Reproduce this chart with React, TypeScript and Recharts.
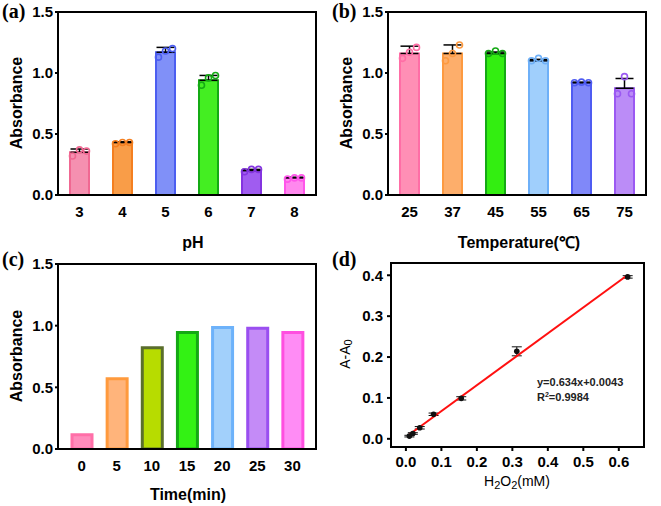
import React from 'react';
import { ComposedChart, Bar, Line, Scatter, XAxis, YAxis, ErrorBar, Cell } from 'recharts';

const FONT = '"Liberation Sans", Arial, sans-serif';

// (a) pH
const phLabels = ['3', '4', '5', '6', '7', '8'];
const phMean = [0.35, 0.43, 1.17, 0.94, 0.2, 0.14];
const phSD = [0.027, 0.006, 0.04, 0.04, 0.01, 0.006];
const phRepLeft = [0.32, 0.42, 1.13, 0.9, 0.19, 0.13];
const phRepCenter = [0.37, 0.43, 1.18, 0.96, 0.21, 0.14];
const phRepRight = [0.36, 0.43, 1.2, 0.98, 0.21, 0.14];
const phFill = ['#f590b0', '#f99d48', '#8090f8', '#44ee22', '#a05cf0', '#ff88ee'];
const phStroke = ['#f06892', '#f47f20', '#4c5ef0', '#14aa14', '#8434e0', '#ff55ea'];

// (b) Temperature
const tempLabels = ['25', '37', '45', '55', '65', '75'];
const tempMean = [1.16, 1.16, 1.16, 1.1, 0.92, 0.875];
const tempSD = [0.06, 0.07, 0.012, 0.012, 0.005, 0.08];
const tempRepLeft = [1.12, 1.1, 1.16, 1.1, 0.92, 0.83];
const tempRepCenter = [1.17, 1.16, 1.18, 1.12, 0.925, 0.97];
const tempRepRight = [1.21, 1.23, 1.16, 1.1, 0.92, 0.83];
const tempFill = ['#ff8fb5', '#fdae6b', '#33ee11', '#a0cffc', '#8088f9', '#bb8cf7'];
const tempStroke = ['#ff6ea6', '#fd9a40', '#15a915', '#6eb0f8', '#4f5cf2', '#9b59f2'];

// (c) Time
const timeLabels = ['0', '5', '10', '15', '20', '25', '30'];
const timeValues = [0.115, 0.57, 0.82, 0.945, 0.985, 0.98, 0.945];
const timeFill = ['#ff8cbc', '#ffb47b', '#b7dc00', '#33f214', '#a2d0fb', '#c48bf7', '#ff8cf5'];
const timeStroke = ['#ff6fa8', '#ff9a3d', '#5a6e2c', '#14a814', '#6db2fa', '#9a4ff0', '#ff4fe0'];

// (d) H2O2 calibration
const h2o2Conc = [0.0098, 0.0195, 0.039, 0.078, 0.156, 0.3125, 0.625];
const h2o2Signal = [0.0066, 0.013, 0.027, 0.06, 0.099, 0.214, 0.396];
const h2o2Err = [0.002, 0.002, 0.003, 0.003, 0.004, 0.011, 0.003];
const fitX = [0.0098, 0.625];
const fitY = [0.0105, 0.4006];
const xTicksD = [0, 0.1, 0.2, 0.3, 0.4, 0.5, 0.6];
const yTicksD = [0, 0.1, 0.2, 0.3, 0.4];
const yTicksBar = [0, 0.5, 1, 1.5];

const axisLine = { stroke: '#000', strokeWidth: 2, strokeLinecap: 'square' as const };
const tickStyle = { fill: '#000', fontSize: 15, fontWeight: 'bold', fontFamily: FONT };

const makeDot = (offset: number, colors: string[]) => (props: any) => {
  const { cx, cy, index } = props;
  if (cx == null || cy == null || isNaN(cy)) return <g key={`e-${offset}-${index}`} />;
  return (
    <circle
      key={`d-${offset}-${index}`}
      cx={cx + offset}
      cy={cy}
      r={3}
      fill="none"
      stroke={colors[index]}
      strokeWidth={1.6}
    />
  );
};

function BarPanel(props: any) {
  const { width, height, margin, labels, mean, sd, reps, fills, strokes, barSize, barStroke, padding, bottomHeight, tickMargin } = props;
  const rows = labels.map((name: string, i: number) => ({
    name,
    mean: mean[i],
    err: sd ? [0, sd[i]] : 0,
    r0: reps ? reps[0][i] : null,
    r1: reps ? reps[1][i] : null,
    r2: reps ? reps[2][i] : null,
  }));
  return (
    <ComposedChart width={width} height={height} data={rows} margin={margin}>
      <XAxis
        dataKey="name"
        type="category"
        padding={padding}
        tickLine={false}
        tickSize={0}
        tickMargin={tickMargin}
        axisLine={axisLine}
        tick={tickStyle}
        height={bottomHeight}
        interval={0}
      />
      <XAxis xAxisId="top" orientation="top" dataKey="name" padding={padding} tick={false} tickLine={false} axisLine={axisLine} height={1} />
      <YAxis
        domain={[0, 1.5]}
        ticks={yTicksBar}
        tickFormatter={(v: number) => v.toFixed(1)}
        width={58}
        tickSize={3}
        tickMargin={2}
        tickLine={{ stroke: '#000', strokeWidth: 2 }}
        axisLine={axisLine}
        tick={tickStyle}
        allowDataOverflow
      />
      <YAxis yAxisId="right" orientation="right" domain={[0, 1.5]} ticks={yTicksBar} tick={false} tickLine={false} axisLine={axisLine} width={1} />
      <Bar dataKey="mean" barSize={barSize} strokeWidth={barStroke} isAnimationActive={false}>
        {rows.map((_: any, i: number) => (
          <Cell key={`c${i}`} fill={fills[i]} stroke={strokes[i]} />
        ))}
        {sd ? <ErrorBar dataKey="err" width={9} stroke="#000" strokeWidth={1.5} direction="y" /> : null}
      </Bar>
      {reps
        ? [-7, 0, 7].map((off, k) => (
            <Line
              key={`l${k}`}
              dataKey={`r${k}`}
              stroke="none"
              isAnimationActive={false}
              activeDot={false}
              legendType="none"
              dot={makeDot(off, strokes)}
            />
          ))
        : null}
    </ComposedChart>
  );
}

function CalibPanel() {
  const pts = h2o2Conc.map((x, i) => ({ x, y: h2o2Signal[i], err: h2o2Err[i] }));
  const fit = fitX.map((x, i) => ({ x, y: fitY[i] }));
  return (
    <ComposedChart width={331} height={256} margin={{ top: 12, right: 16, left: 0, bottom: 0 }}>
      <XAxis
        dataKey="x"
        type="number"
        domain={[-0.042, 0.671]}
        ticks={xTicksD}
        tickFormatter={(v: number) => v.toFixed(1)}
        allowDataOverflow
        tickSize={4}
        tickMargin={5}
        tickLine={{ stroke: '#000', strokeWidth: 2 }}
        axisLine={axisLine}
        tick={tickStyle}
        height={59}
        interval={0}
      />
      <XAxis xAxisId="top" orientation="top" type="number" domain={[-0.042, 0.671]} ticks={xTicksD} allowDataOverflow tick={false} tickLine={false} axisLine={axisLine} height={1} />
      <YAxis
        dataKey="y"
        type="number"
        domain={[-0.02, 0.43]}
        ticks={yTicksD}
        tickFormatter={(v: number) => v.toFixed(1)}
        allowDataOverflow
        width={61}
        tickSize={4}
        tickMargin={4}
        tickLine={{ stroke: '#000', strokeWidth: 2 }}
        axisLine={axisLine}
        tick={tickStyle}
        interval={0}
      />
      <YAxis yAxisId="right" orientation="right" type="number" domain={[-0.02, 0.43]} ticks={yTicksD} allowDataOverflow tick={false} tickLine={false} axisLine={axisLine} width={1} />
      <Scatter
        data={pts}
        dataKey="y"
        isAnimationActive={false}
        fill="#000"
        shape={(p: any) => <circle cx={p.cx} cy={p.cy} r={2.8} fill="#111" />}
      >
        <ErrorBar dataKey="err" direction="y" width={5} stroke="#111" strokeWidth={1} />
      </Scatter>
      <Line data={fit} dataKey="y" type="linear" stroke="#ff1010" strokeWidth={2} dot={false} activeDot={false} isAnimationActive={false} />
    </ComposedChart>
  );
}

const panelLabel = { fontFamily: '"Liberation Serif", "Times New Roman", serif', fontWeight: 'bold', fontSize: 20, fill: '#000' } as const;
const titleStyle = { fontFamily: FONT, fontWeight: 'bold', fontSize: 16, fill: '#000' } as const;
const dTitle = { fontFamily: FONT, fontSize: 14, fill: '#000' } as const;

export default function App() {
  return (
    <div style={{ position: 'absolute', left: 0, top: 0, width: 661, height: 506, background: '#fff', overflow: 'hidden' }}>
      <div style={{ position: 'absolute', left: 0, top: 0 }}>
        <BarPanel
          width={330}
          height={250}
          margin={{ top: 11, right: 13, left: 0, bottom: 0 }}
          labels={phLabels}
          mean={phMean}
          sd={phSD}
          reps={[phRepLeft, phRepCenter, phRepRight]}
          fills={phFill}
          strokes={phStroke}
          barSize={19}
          barStroke={2}
          padding={{ left: 0, right: 0 }}
          bottomHeight={55}
          tickMargin={11}
        />
      </div>
      <div style={{ position: 'absolute', left: 330, top: 0 }}>
        <BarPanel
          width={330}
          height={250}
          margin={{ top: 11, right: 13, left: 0, bottom: 0 }}
          labels={tempLabels}
          mean={tempMean}
          sd={tempSD}
          reps={[tempRepLeft, tempRepCenter, tempRepRight]}
          fills={tempFill}
          strokes={tempStroke}
          barSize={19}
          barStroke={2}
          padding={{ left: 0, right: 0 }}
          bottomHeight={55}
          tickMargin={11}
        />
      </div>
      <div style={{ position: 'absolute', left: 0, top: 250 }}>
        <BarPanel
          width={330}
          height={256}
          margin={{ top: 13, right: 13, left: 0, bottom: 0 }}
          labels={timeLabels}
          mean={timeValues}
          fills={timeFill}
          strokes={timeStroke}
          barSize={20}
          barStroke={3}
          padding={{ left: 6, right: 6 }}
          bottomHeight={57}
          tickMargin={11}
        />
      </div>
      <div style={{ position: 'absolute', left: 330, top: 250 }}>
        <CalibPanel />
      </div>
      <svg width={661} height={506} style={{ position: 'absolute', left: 0, top: 0, pointerEvents: 'none' }}>
        <text x={2} y={18} style={panelLabel}>(a)</text>
        <text x={332} y={18} style={panelLabel}>(b)</text>
        <text x={2} y={266} style={panelLabel}>(c)</text>
        <text x={332} y={266} style={panelLabel}>(d)</text>

        <text x={16} y={103} transform="rotate(-90 16 103)" textAnchor="middle" dominantBaseline="central" style={titleStyle}>Absorbance</text>
        <text x={346} y={103} transform="rotate(-90 346 103)" textAnchor="middle" dominantBaseline="central" style={titleStyle}>Absorbance</text>
        <text x={16} y={356} transform="rotate(-90 16 356)" textAnchor="middle" dominantBaseline="central" style={titleStyle}>Absorbance</text>

        <text x={193} y={248} textAnchor="middle" style={titleStyle}>pH</text>
        <text x={519} y={248} textAnchor="middle" style={titleStyle}>Temperature(℃)</text>
        <text x={188} y={500} textAnchor="middle" style={titleStyle}>Time(min)</text>

        <text x={345} y={354} transform="rotate(-90 345 354)" textAnchor="middle" dominantBaseline="central" style={dTitle}>
          A-A<tspan dy={3} fontSize={11}>0</tspan>
        </text>
        <text x={517} y={486} textAnchor="middle" style={dTitle}>
          H<tspan dy={3} fontSize={11}>2</tspan><tspan dy={-3}>O</tspan><tspan dy={3} fontSize={11}>2</tspan><tspan dy={-3}>(mM)</tspan>
        </text>
        <text x={537} y={386} style={{ fontFamily: FONT, fontWeight: 'bold', fontSize: 11, fill: '#222' }}>y=0.634x+0.0043</text>
        <text x={537} y={401} style={{ fontFamily: FONT, fontWeight: 'bold', fontSize: 11, fill: '#222' }}>
          R<tspan dy={-4} fontSize={7}>2</tspan><tspan dy={4}>=0.9984</tspan>
        </text>
      </svg>
    </div>
  );
}
